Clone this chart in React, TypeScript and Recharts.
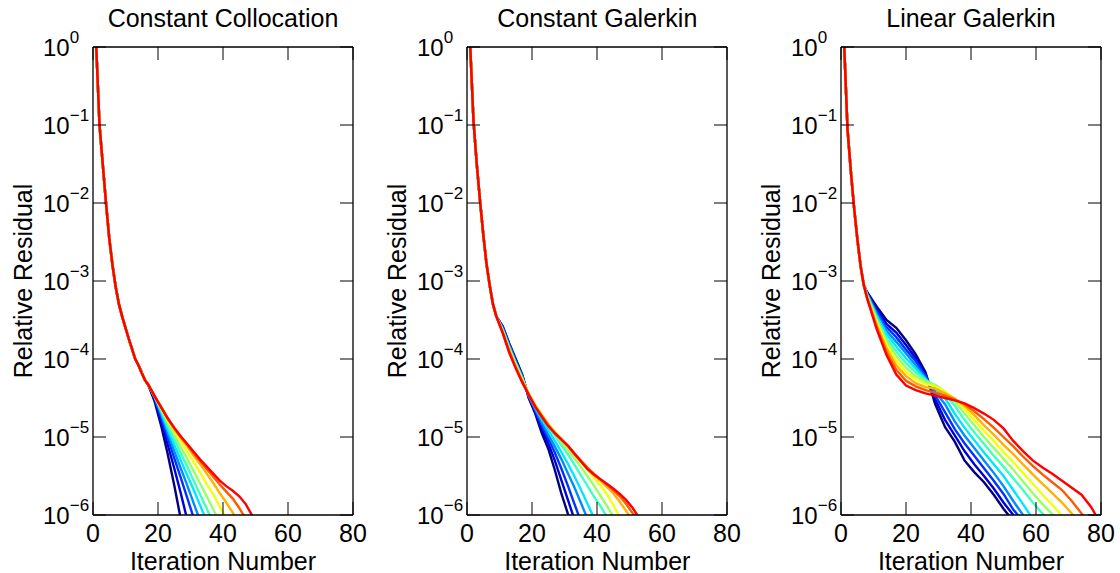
import React from 'react';
import { LineChart, Line, XAxis, YAxis } from 'recharts';

// values are stored as decades below 1 (residual = 10^-d)
const lineColors = ['#000080', '#0000d9', '#0033ff', '#008cff', '#00e6ff', '#40ffbf', '#99ff66', '#f2ff0d', '#ffb300', '#ff5900', '#ff0000'];
const xTicks = [0, 20, 40, 60, 80];
const yTicks = [1e-6, 1e-5, 1e-4, 1e-3, 1e-2, 1e-1, 1];
const titles = ['Constant Collocation', 'Constant Galerkin', 'Linear Galerkin'];

// Constant Collocation
const ccHeadIter = [1, 2, 3, 4, 5, 6, 7, 8, 9, 10, 11, 12, 13, 14, 15, 16, 17];
const ccHead = [0, 1.0, 1.5, 2.0, 2.45, 2.8, 3.08, 3.3, 3.46, 3.6, 3.74, 3.87, 4.0, 4.08, 4.18, 4.27, 4.33];
const ccTailIter = [19, 21, 23, 25, 27, 29, 31, 33, 35, 37, 39, 41, 43, 45, 47, 49, 51];
const ccTails = [
  [4.55, 4.86, 5.22, 5.62, 6.05],
  [4.52, 4.8, 5.1, 5.4, 5.72, 6.06],
  [4.5, 4.75, 5.01, 5.27, 5.52, 5.78, 6.04],
  [4.49, 4.71, 4.95, 5.18, 5.4, 5.62, 5.85, 6.08],
  [4.48, 4.68, 4.9, 5.1, 5.3, 5.49, 5.68, 5.88, 6.08],
  [4.48, 4.66, 4.85, 5.03, 5.21, 5.38, 5.56, 5.74, 5.92, 6.1],
  [4.48, 4.64, 4.81, 4.97, 5.13, 5.28, 5.44, 5.6, 5.76, 5.93, 6.1],
  [4.48, 4.63, 4.78, 4.92, 5.05, 5.19, 5.32, 5.46, 5.6, 5.74, 5.89, 6.05],
  [4.48, 4.62, 4.77, 4.9, 5.01, 5.12, 5.24, 5.35, 5.47, 5.59, 5.72, 5.84, 5.97, 6.1],
  [4.48, 4.62, 4.76, 4.89, 5.0, 5.1, 5.21, 5.31, 5.41, 5.51, 5.61, 5.7, 5.79, 5.91, 6.05],
  [4.48, 4.62, 4.76, 4.88, 4.99, 5.09, 5.19, 5.29, 5.38, 5.47, 5.56, 5.63, 5.69, 5.76, 5.86, 6.01, 6.15],
];

// Constant Galerkin
const cgHeadIter = [1, 2, 3, 4, 5, 6, 7, 8, 9];
const cgHead = [0, 0.95, 1.5, 1.97, 2.4, 2.78, 3.06, 3.3, 3.45];
const cgTailIter = [11, 13, 15, 17, 19, 21, 23, 25, 27, 29, 31, 33, 35, 37, 39, 41, 43, 45, 47, 49, 51, 53, 55];
const cgTails = [
  [3.58, 3.8, 4.0, 4.2, 4.5, 4.7, 4.95, 5.15, 5.42, 5.72, 5.98, 6.2],
  [3.59, 3.81, 4.01, 4.21, 4.49, 4.68, 4.9, 5.08, 5.3, 5.55, 5.8, 6.05],
  [3.6, 3.82, 4.02, 4.22, 4.48, 4.66, 4.85, 5.02, 5.2, 5.4, 5.62, 5.85, 6.08],
  [3.61, 3.83, 4.04, 4.23, 4.47, 4.64, 4.81, 4.97, 5.12, 5.28, 5.46, 5.64, 5.84, 6.04],
  [3.62, 3.85, 4.05, 4.24, 4.46, 4.62, 4.77, 4.91, 5.05, 5.19, 5.34, 5.5, 5.67, 5.85, 6.03],
  [3.63, 3.86, 4.06, 4.25, 4.45, 4.6, 4.74, 4.86, 4.98, 5.1, 5.22, 5.35, 5.49, 5.62, 5.76, 5.88, 6.02],
  [3.64, 3.87, 4.07, 4.26, 4.45, 4.59, 4.72, 4.84, 4.95, 5.06, 5.16, 5.27, 5.38, 5.5, 5.62, 5.75, 5.88, 6.02],
  [3.65, 3.88, 4.08, 4.27, 4.45, 4.59, 4.71, 4.83, 4.93, 5.02, 5.12, 5.22, 5.32, 5.42, 5.52, 5.62, 5.73, 5.87, 6.03],
  [3.66, 3.89, 4.1, 4.28, 4.45, 4.6, 4.72, 4.84, 4.94, 5.03, 5.12, 5.22, 5.31, 5.4, 5.48, 5.56, 5.64, 5.72, 5.83, 5.95, 6.08],
  [3.66, 3.9, 4.11, 4.29, 4.46, 4.61, 4.73, 4.85, 4.95, 5.03, 5.11, 5.21, 5.3, 5.39, 5.47, 5.54, 5.61, 5.68, 5.76, 5.86, 5.98, 6.1],
  [3.67, 3.92, 4.12, 4.3, 4.46, 4.61, 4.74, 4.86, 4.95, 5.03, 5.11, 5.21, 5.31, 5.41, 5.48, 5.54, 5.6, 5.66, 5.73, 5.81, 5.91, 6.04],
];

// Linear Galerkin
const lgHeadIter = [1, 2, 3, 4, 5, 6, 7];
const lgHead = [0, 1.05, 1.58, 2.05, 2.45, 2.8, 3.05];
const lgTailIter = [8, 11, 14, 17, 20, 23, 26, 29, 32, 35, 38, 41, 44, 47, 50, 53, 56, 59, 62, 65, 68, 71, 74, 77, 80];
const lgTails = [
  [3.14, 3.33, 3.5, 3.6, 3.76, 3.94, 4.17, 4.58, 4.87, 5.06, 5.3, 5.45, 5.58, 5.74, 5.92, 6.08],
  [3.15, 3.36, 3.55, 3.66, 3.82, 3.99, 4.2, 4.52, 4.78, 4.98, 5.18, 5.35, 5.5, 5.66, 5.84, 6.0, 6.15],
  [3.16, 3.39, 3.59, 3.72, 3.88, 4.03, 4.22, 4.47, 4.68, 4.9, 5.08, 5.24, 5.4, 5.56, 5.73, 5.93, 6.08],
  [3.16, 3.42, 3.64, 3.78, 3.93, 4.08, 4.24, 4.42, 4.58, 4.8, 4.98, 5.14, 5.3, 5.46, 5.63, 5.82, 6.0, 6.15],
  [3.17, 3.45, 3.68, 3.84, 3.99, 4.12, 4.26, 4.37, 4.5, 4.7, 4.88, 5.04, 5.2, 5.35, 5.5, 5.68, 5.86, 6.05],
  [3.18, 3.48, 3.73, 3.9, 4.05, 4.17, 4.27, 4.34, 4.44, 4.6, 4.78, 4.94, 5.09, 5.24, 5.38, 5.53, 5.68, 5.84, 5.98, 6.12],
  [3.19, 3.5, 3.77, 3.96, 4.11, 4.22, 4.29, 4.33, 4.42, 4.54, 4.7, 4.85, 5.0, 5.14, 5.28, 5.42, 5.57, 5.72, 5.86, 5.99, 6.12],
  [3.2, 3.53, 3.82, 4.02, 4.17, 4.26, 4.32, 4.35, 4.42, 4.51, 4.64, 4.78, 4.92, 5.05, 5.19, 5.32, 5.46, 5.6, 5.74, 5.87, 6.01, 6.15],
  [3.2, 3.56, 3.86, 4.08, 4.22, 4.31, 4.36, 4.38, 4.44, 4.51, 4.6, 4.72, 4.85, 4.97, 5.1, 5.22, 5.35, 5.48, 5.6, 5.72, 5.84, 5.98, 6.12],
  [3.21, 3.59, 3.91, 4.14, 4.28, 4.35, 4.4, 4.43, 4.47, 4.52, 4.58, 4.67, 4.77, 4.88, 5.0, 5.12, 5.25, 5.37, 5.48, 5.58, 5.68, 5.82, 5.98, 6.12],
  [3.22, 3.62, 3.95, 4.2, 4.34, 4.4, 4.44, 4.47, 4.5, 4.53, 4.57, 4.63, 4.7, 4.78, 4.89, 5.05, 5.18, 5.3, 5.39, 5.47, 5.56, 5.65, 5.74, 5.9, 6.12],
];

const buildRows = (headIter: number[], head: number[], tailIter: number[], tails: number[][]) => {
  const rows: any[] = headIter.map((it, j) => {
    const r: any = { it };
    tails.forEach((_, i) => { r['s' + i] = Math.pow(10, -head[j]); });
    return r;
  });
  tailIter.forEach((it, j) => {
    const r: any = { it };
    tails.forEach((t, i) => { if (j < t.length) r['s' + i] = Math.pow(10, -t[j]); });
    rows.push(r);
  });
  return rows;
};

const panels = [
  { left: 93, rows: buildRows(ccHeadIter, ccHead, ccTailIter, ccTails) },
  { left: 467.3, rows: buildRows(cgHeadIter, cgHead, cgTailIter, cgTails) },
  { left: 841, rows: buildRows(lgHeadIter, lgHead, lgTailIter, lgTails) },
];

const FONT = '"Liberation Sans", Arial, Helvetica, sans-serif';
const TICK = 13;
const PW = 260;

const LeftTick = (props: any) => {
  const { x, y, payload } = props;
  const e = Math.round(Math.log10(payload.value));
  return (
    <g>
      <line x1={x} y1={y} x2={x + TICK} y2={y} stroke="#000" strokeWidth={1} />
      <text x={x - 50} y={y + 8.5} fontSize={24} fontFamily={FONT} fill="#000" textAnchor="start">
        10<tspan dy={-13} fontSize={17}>{e === 0 ? '0' : '\u2212' + Math.abs(e)}</tspan>
      </text>
    </g>
  );
};

const RightTick = (props: any) => {
  const { x, y } = props;
  return <line x1={x - TICK} y1={y} x2={x} y2={y} stroke="#000" strokeWidth={1} />;
};

const BottomTick = (props: any) => {
  const { x, y, payload } = props;
  return (
    <g>
      <line x1={x} y1={y} x2={x} y2={y - TICK} stroke="#000" strokeWidth={1} />
      <text x={x} y={y + 27} fontSize={25} fontFamily={FONT} fill="#000" textAnchor="middle">
        {payload.value}
      </text>
    </g>
  );
};

const TopTick = (props: any) => {
  const { x, y } = props;
  return <line x1={x} y1={y} x2={x} y2={y + TICK} stroke="#000" strokeWidth={1} />;
};

const axisLine = { stroke: '#000', strokeWidth: 1.3 };

const Panel = ({ left, rows }: { left: number; rows: any[] }) => (
  <div style={{ position: 'absolute', left: left - 93, top: 0 }}>
    <LineChart width={374} height={573} data={rows} margin={{ top: 46, right: 20, bottom: 57, left: 0 }}>
      <XAxis dataKey="it" type="number" domain={[0, 80]} ticks={xTicks} allowDataOverflow
        height={1} tickSize={0} tickMargin={0} interval={0} axisLine={axisLine} tickLine={false} tick={BottomTick} />
      <XAxis xAxisId="top" orientation="top" dataKey="it" type="number" domain={[0, 80]} ticks={xTicks} allowDataOverflow
        height={1} tickSize={0} tickMargin={0} interval={0} axisLine={axisLine} tickLine={false} tick={TopTick} />
      <YAxis type="number" scale="log" domain={[1e-6, 1]} ticks={yTicks} allowDataOverflow
        width={93} tickSize={0} tickMargin={0} interval={0} axisLine={axisLine} tickLine={false} tick={LeftTick} />
      <YAxis yAxisId="right" orientation="right" type="number" scale="log" domain={[1e-6, 1]} ticks={yTicks} allowDataOverflow
        width={1} tickSize={0} tickMargin={0} interval={0} axisLine={axisLine} tickLine={false} tick={RightTick} />
      {lineColors.map((c, i) => (
        <Line key={i} type="linear" dataKey={'s' + i} stroke={c} strokeWidth={2.4} dot={false}
          activeDot={false} isAnimationActive={false} />
      ))}
    </LineChart>
  </div>
);

export default function App() {
  return (
    <div style={{ position: 'absolute', left: 0, top: 0, width: 1120, height: 573, background: '#fff', fontFamily: FONT }}>
      {panels.map((p, k) => <Panel key={k} left={p.left} rows={p.rows} />)}
      <svg width={1120} height={573} style={{ position: 'absolute', left: 0, top: 0, pointerEvents: 'none' }}>
        {panels.map((p, k) => (
          <g key={k} fontFamily={FONT} fontSize={25} fill="#000">
            <text x={p.left + PW / 2} y={27} textAnchor="middle">{titles[k]}</text>
            <text x={p.left + PW / 2} y={569.5} textAnchor="middle">Iteration Number</text>
            <text x={p.left - 61} y={281} textAnchor="middle" transform={`rotate(-90 ${p.left - 61} 281)`}>Relative Residual</text>
          </g>
        ))}
      </svg>
    </div>
  );
}
